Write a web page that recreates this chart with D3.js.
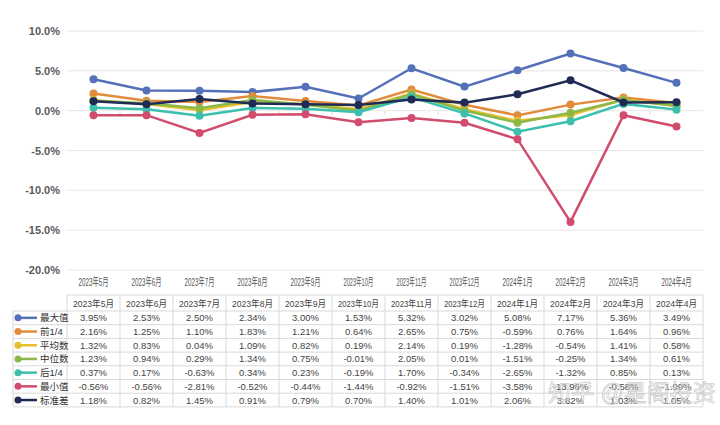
<!DOCTYPE html>
<head>
    <title>收益分布</title>
    <style>
        body{ margin: 0; background: #fff; }
        svg{ display: block; }
        text{ font-family: "Liberation Sans", "Noto Sans CJK SC", sans-serif; }
    </style>
    <script src="https://d3js.org/d3.v7.min.js"></script>
</head>
<body>
    <svg width="720" height="425"></svg>

    <script>
        // 月份
        var months = ["2023年5月","2023年6月","2023年7月","2023年8月","2023年9月","2023年10月",
                      "2023年11月","2023年12月","2024年1月","2024年2月","2024年3月","2024年4月"];
        var names = ["最大值","前1/4","平均数","中位数","后1/4","最小值","标准差"];
        var colors = ["#5470b8","#e38b3d","#e6c02a","#8cb84a","#3dbfae","#d24d6d","#1f2b55"];

        var maxVal  = [3.95, 2.53, 2.50, 2.34, 3.00, 1.53, 5.32, 3.02, 5.08, 7.17, 5.36, 3.49];
        var q1      = [2.16, 1.25, 1.10, 1.83, 1.21, 0.64, 2.65, 0.75, -0.59, 0.76, 1.64, 0.96];
        var mean    = [1.32, 0.83, 0.04, 1.09, 0.82, 0.19, 2.14, 0.19, -1.28, -0.54, 1.41, 0.58];
        var median  = [1.23, 0.94, 0.29, 1.34, 0.75, -0.01, 2.05, 0.01, -1.51, -0.25, 1.34, 0.61];
        var q3      = [0.37, 0.17, -0.63, 0.34, 0.23, -0.19, 1.70, -0.34, -2.65, -1.32, 0.85, 0.13];
        var minVal  = [-0.56, -0.56, -2.81, -0.52, -0.44, -1.44, -0.92, -1.51, -3.58, -13.96, -0.58, -1.99];
        var stdVal  = [1.18, 0.82, 1.45, 0.91, 0.79, 0.70, 1.40, 1.01, 2.06, 3.82, 1.03, 1.05];
        var series = [maxVal, q1, mean, median, q3, minVal, stdVal];

        var yTicks = [10, 5, 0, -5, -10, -15, -20];

        var svg = d3.select("svg");

        var x = d3.scaleBand().domain(months).range([67, 703]);
        var y = d3.scaleLinear().domain([-20, 10]).range([270, 31]);

        // 网格线
        svg.append("g").selectAll("line").data(yTicks).join("line")
            .attr("x1", 67).attr("x2", 703)
            .attr("y1", d => y(d)).attr("y2", d => y(d))
            .attr("stroke", "#e6e6e6").attr("stroke-width", 1);

        var yAxis = d3.axisLeft(y).tickValues(yTicks).tickSize(0).tickPadding(7)
            .tickFormat(d => d.toFixed(1) + "%");
        svg.append("g").attr("transform", "translate(67,0)").call(yAxis)
            .call(g => g.select(".domain").remove())
            .selectAll("text")
            .attr("font-size", 11).attr("font-weight", "bold").attr("fill", "#5a5a5a");

        // 零线上的小刻度
        svg.append("g").selectAll("line").data(months.slice(1)).join("line")
            .attr("x1", d => x(d)).attr("x2", d => x(d))
            .attr("y1", y(0)).attr("y2", y(0) + 4)
            .attr("stroke", "#d9d9d9");

        // 月份标签
        svg.append("g").selectAll("text").data(months).join("text")
            .attr("x", d => x(d) + x.bandwidth() / 2)
            .attr("y", 286)
            .attr("text-anchor", "middle")
            .attr("font-size", 11)
            .attr("fill", "#555")
            .attr("textLength", d => d.length > 8 ? 33 : 30)
            .attr("lengthAdjust", "spacingAndGlyphs")
            .text(d => d);

        // 折线
        var line = d3.line()
            .x((d, i) => x(months[i]) + x.bandwidth() / 2)
            .y(d => y(d));

        series.forEach(function (s, k) {
            var g = svg.append("g");
            g.append("path")
                .attr("d", line(s))
                .attr("fill", "none")
                .attr("stroke", colors[k])
                .attr("stroke-width", 2.5);
            g.selectAll("circle").data(s).join("circle")
                .attr("cx", (d, i) => x(months[i]) + x.bandwidth() / 2)
                .attr("cy", d => y(d))
                .attr("r", 4)
                .attr("fill", colors[k]);
        });

        // 数据表
        var tTop = 295, headH = 16, rowH = 13.7, legLeft = 13;
        var tb = svg.append("g");
        var tableBottom = tTop + headH + rowH * names.length;

        // 横线
        tb.append("line").attr("x1", 67).attr("x2", 703).attr("y1", tTop).attr("y2", tTop)
            .attr("stroke", "#d9d9d9");
        tb.selectAll("line.h").data(d3.range(names.length + 1)).join("line")
            .attr("class", "h")
            .attr("x1", legLeft).attr("x2", 703)
            .attr("y1", i => tTop + headH + i * rowH).attr("y2", i => tTop + headH + i * rowH)
            .attr("stroke", "#d9d9d9");
        // 竖线
        tb.selectAll("line.v").data(months.concat(["end"])).join("line")
            .attr("class", "v")
            .attr("x1", d => d === "end" ? 703 : x(d)).attr("x2", d => d === "end" ? 703 : x(d))
            .attr("y1", tTop).attr("y2", tableBottom)
            .attr("stroke", "#d9d9d9");
        tb.append("line").attr("x1", legLeft).attr("x2", legLeft)
            .attr("y1", tTop + headH).attr("y2", tableBottom).attr("stroke", "#d9d9d9");

        // 表头
        tb.selectAll("text.head").data(months).join("text")
            .attr("class", "head")
            .attr("x", d => x(d) + x.bandwidth() / 2)
            .attr("y", tTop + headH / 2 + 3.5)
            .attr("text-anchor", "middle")
            .attr("font-size", 9.5)
            .attr("fill", "#444")
            .attr("textLength", d => d.length > 8 ? 46 : 41)
            .attr("lengthAdjust", "spacingAndGlyphs")
            .text(d => d);

        series.forEach(function (s, k) {
            var cy = tTop + headH + k * rowH + rowH / 2;
            tb.append("line")
                .attr("x1", legLeft + 3).attr("x2", legLeft + 24)
                .attr("y1", cy).attr("y2", cy)
                .attr("stroke", colors[k]).attr("stroke-width", 2.5);
            tb.append("circle").attr("cx", legLeft + 5).attr("cy", cy).attr("r", 3.5)
                .attr("fill", colors[k]);
            tb.append("text").attr("x", legLeft + 27).attr("y", cy + 3.5)
                .attr("font-size", 9.5).attr("fill", "#333").text(names[k]);

            tb.selectAll("text.v" + k).data(s).join("text")
                .attr("class", "v" + k)
                .attr("x", (d, i) => x(months[i]) + x.bandwidth() / 2)
                .attr("y", cy + 3.5)
                .attr("text-anchor", "middle")
                .attr("font-size", 9.5)
                .attr("fill", "#444")
                .text(d => d.toFixed(2) + "%");
        });

        // 水印
        svg.append("text")
            .attr("x", 548).attr("y", 401)
            .attr("font-size", 23)
            .attr("font-family", "Noto Sans CJK SC")
            .attr("fill", "#fff").attr("fill-opacity", 0.5)
            .attr("stroke", "#aaa").attr("stroke-opacity", 0.6).attr("stroke-width", 0.8)
            .text("知乎 @星阁投资");
    </script>
</body>
</html>
